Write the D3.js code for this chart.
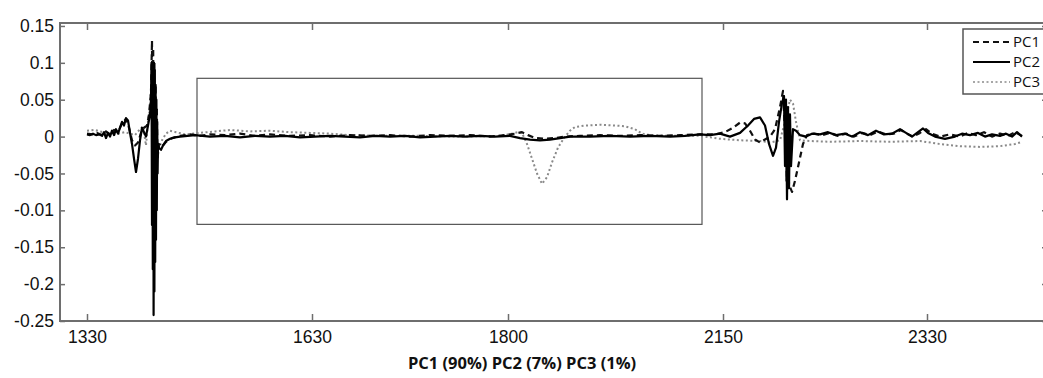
<!DOCTYPE html>
<html>
<head>
<meta charset="utf-8">
<script src="https://cdn.jsdelivr.net/npm/d3@7"></script>
<style>
  body { margin: 0; background: #fff; }
  svg { display: block; font-family: "Open Sans", "DejaVu Sans", sans-serif; }
</style>
</head>
<body>
<svg id="chart" width="1043" height="378"></svg>
<script>
// x is the variable index along the spectrum; tick labels are the printed wavenumbers
const xTickValues = [27, 252, 448, 663, 867];
const xTickLabels = ["1330", "1630", "1800", "2150", "2330"];

const yTickValues = [0.15, 0.1, 0.05, 0, -0.05, -0.1, -0.15, -0.2, -0.25];
const yTickLabels = ["0.15", "0.1", "0.05", "0", "-0.05", "-0.01", "-0.15", "-0.2", "-0.25"];

const seriesNames = ["PC1", "PC2", "PC3"];
const xTitle = "PC1 (90%) PC2 (7%) PC3 (1%)";

// zoom box drawn on the plot (data units)
const boxX = [137, 642];
const boxY = [0.079, -0.119];

// [index, loading]
const pc1 = [
  [27, 0.004], [32, 0.003], [37, 0.005], [42, 0.002], [46, 0.007], [50, 0.003], [54, 0.009],
  [58, 0.006], [62, 0.018], [66, 0.024], [69, 0.012], [72, -0.005], [75, -0.012], [78, -0.008],
  [81, 0.005], [84, 0.012], [87, 0.015], [89, 0.03], [91, 0.06], [92, 0.13], [92.6, -0.05],
  [93.2, 0.12], [93.8, -0.16], [94.4, 0.1], [95, -0.12], [95.6, 0.07], [96.2, -0.08], [96.8, 0.04],
  [97.5, -0.03], [99, -0.01], [102, -0.014], [106, -0.007], [112, -0.002], [120, 0.001],
  [130, 0.003], [140, 0.001], [150, 0.003], [165, 0.002], [180, 0.004], [195, 0.001], [210, 0.003],
  [230, 0.001], [250, 0.002], [270, 0.0], [290, 0.002], [310, 0.001], [330, 0.002], [350, 0.0],
  [370, 0.002], [390, 0.001], [410, 0.002], [430, 0.0], [445, 0.002], [455, 0.004], [462, 0.006],
  [468, 0.002], [475, -0.002], [485, -0.003], [495, -0.002], [505, 0.0], [520, 0.001], [540, 0.002],
  [560, 0.001], [580, 0.002], [600, 0.001], [620, 0.002], [640, 0.003], [655, 0.003], [665, 0.006],
  [673, 0.012], [680, 0.019], [685, 0.018], [690, 0.008], [695, -0.004], [700, -0.008],
  [705, -0.004], [710, 0.0], [715, 0.01], [720, 0.04], [723, 0.062], [724.5, 0.02], [725.5, 0.05],
  [726.5, -0.06], [727.5, 0.03], [729, -0.065], [732, -0.075], [735, -0.06], [739, -0.035],
  [743, -0.01], [747, 0.002], [754, 0.004], [762, 0.002], [770, 0.005], [778, 0.001], [786, 0.004],
  [794, 0.0], [802, 0.005], [810, 0.002], [818, 0.007], [826, 0.003], [834, 0.004], [841, 0.009],
  [847, 0.004], [853, 0.0], [860, 0.005], [866, 0.01], [872, 0.004], [880, 0.0], [890, 0.003],
  [900, 0.0], [908, 0.005], [916, 0.002], [924, 0.006], [932, 0.0], [940, 0.004], [948, 0.001],
  [955, 0.006], [962, 0.001]
];

const pc2 = [
  [27, 0.003], [30, 0.002], [33, 0.004], [36, 0.002], [39, 0.003], [42, 0.001], [44, 0.006],
  [46, -0.002], [48, 0.005], [50, 0.0], [52, 0.008], [54, 0.002], [56, 0.01], [58, 0.004],
  [60, 0.012], [62, 0.02], [64, 0.015], [66, 0.025], [68, 0.022], [70, 0.005], [72, -0.01],
  [74, -0.03], [76, -0.048], [78, -0.03], [80, -0.005], [82, 0.012], [84, 0.006], [86, 0.0],
  [88, 0.015], [90, 0.03], [91, 0.05], [91.5, 0.1], [92, -0.12], [92.4, 0.095], [92.8, -0.18],
  [93.3, 0.1], [93.6, -0.242], [94, 0.1], [94.4, -0.21], [94.8, 0.09], [95.2, -0.17], [95.6, 0.07],
  [96, -0.14], [96.4, 0.05], [96.8, -0.1], [97.2, 0.02], [97.6, -0.05], [98, -0.01], [99, -0.015],
  [101, -0.018], [103, -0.012], [106, -0.006],
  [110, -0.003], [115, -0.001], [120, 0.0], [135, 0.002], [150, 0.0], [165, 0.001], [180, -0.001],
  [195, 0.001], [210, 0.0], [225, 0.001], [240, -0.001], [255, 0.0], [270, 0.001], [285, 0.0],
  [300, -0.001], [315, 0.001], [330, 0.0], [345, 0.001], [360, -0.001], [375, 0.0], [390, 0.001],
  [405, 0.0], [420, 0.001], [435, 0.0], [450, 0.001], [460, -0.002], [470, -0.004], [480, -0.005],
  [490, -0.004], [500, -0.002], [510, 0.0], [530, 0.0], [550, 0.001], [570, 0.0], [590, 0.001],
  [610, 0.0], [625, 0.001], [640, 0.003], [650, 0.002], [660, 0.004], [670, 0.0], [680, 0.005],
  [688, 0.015], [694, 0.024], [700, 0.026], [705, 0.015], [709, -0.01], [713, -0.026],
  [716, -0.015], [719, 0.02], [722, 0.045], [724, 0.055], [725, -0.04], [726, 0.05], [727, -0.085],
  [728, 0.04], [729, -0.07], [730, 0.03], [731, -0.04], [733, 0.01], [736, 0.008], [740, 0.002],
  [746, 0.0], [752, 0.004], [760, 0.003], [768, 0.006], [776, 0.002], [785, 0.004], [792, 0.0],
  [800, 0.006], [808, 0.002], [816, 0.008], [824, 0.003], [832, 0.004], [840, 0.01], [846, 0.005],
  [852, 0.0], [858, 0.006], [863, 0.011], [868, 0.005], [875, 0.0], [885, -0.003], [895, 0.0],
  [902, 0.004], [910, 0.002], [918, 0.005], [925, 0.0], [932, 0.003], [940, 0.001], [946, 0.004],
  [952, 0.0], [957, 0.006], [962, 0.0]
];

const pc3 = [
  [27, 0.008], [35, 0.009], [45, 0.005], [55, 0.003], [65, 0.006], [75, 0.002], [80, 0.01],
  [83, 0.014], [86, -0.012], [88, 0.02], [90, 0.04], [92, 0.09], [93, 0.0], [94, 0.08],
  [95, -0.05], [96, -0.015], [98, -0.02], [102, -0.005], [106, 0.004], [110, 0.008], [116, 0.006],
  [125, 0.003], [140, 0.005], [155, 0.007], [170, 0.009], [190, 0.007], [210, 0.008], [230, 0.006],
  [250, 0.005], [270, 0.004], [290, 0.002], [320, 0.001], [360, 0.001], [400, 0.0], [440, 0.001],
  [452, 0.004], [458, 0.006], [462, 0.005], [467, -0.01], [472, -0.03], [477, -0.05], [482, -0.064],
  [487, -0.055], [492, -0.035], [498, -0.015], [504, -0.002], [510, 0.008], [515, 0.013],
  [525, 0.015], [540, 0.016], [555, 0.015], [565, 0.014], [575, 0.01], [582, 0.004], [590, 0.002],
  [610, 0.001], [640, 0.001], [660, -0.003], [680, -0.005], [700, -0.006], [710, -0.008],
  [720, -0.005], [725, 0.02], [730, 0.05], [733, 0.045], [736, 0.02], [740, -0.005], [750, -0.006],
  [770, -0.007], [800, -0.006], [830, -0.007], [860, -0.006], [880, -0.01], [900, -0.013],
  [920, -0.014], [940, -0.013], [955, -0.01], [960, -0.008]
];

const svg = d3.select("#chart");
const margin = { top: 23, left: 60 };
const plotRight = 1047;
const plotBottom = 321;

const x = d3.scaleLinear().domain([0, 987]).range([margin.left, plotRight]);
const y = d3.scaleLinear().domain([-0.25, 0.154]).range([plotBottom, margin.top]);

const frameColor = "#6e6e6e";

// inward ticks on all four sides
const fmtX = (d) => xTickLabels[xTickValues.indexOf(d)];
const fmtY = (d) => yTickLabels[yTickValues.indexOf(d)];

const xb = svg.append("g")
  .attr("transform", `translate(0,${plotBottom})`)
  .call(d3.axisBottom(x).tickValues(xTickValues).tickFormat(fmtX)
    .tickSizeInner(-7).tickSizeOuter(0).tickPadding(10));
const xt = svg.append("g")
  .attr("transform", `translate(0,${margin.top})`)
  .call(d3.axisTop(x).tickValues(xTickValues).tickFormat("")
    .tickSizeInner(-7).tickSizeOuter(0));
const yl = svg.append("g")
  .attr("transform", `translate(${margin.left},0)`)
  .call(d3.axisLeft(y).tickValues(yTickValues).tickFormat(fmtY)
    .tickSizeInner(-5).tickSizeOuter(0).tickPadding(6));
const yr = svg.append("g")
  .attr("transform", `translate(${plotRight},0)`)
  .call(d3.axisRight(y).tickValues(yTickValues).tickFormat("")
    .tickSizeInner(-5).tickSizeOuter(0));

[xb, xt, yl, yr].forEach((g) => {
  g.select(".domain").remove();
  g.selectAll("line").attr("stroke", frameColor).attr("stroke-width", 1.5);
  g.selectAll("text")
    .style("font-size", "17.5px")
    .style("fill", "#111");
});

// frame
svg.append("rect")
  .attr("x", margin.left)
  .attr("y", margin.top)
  .attr("width", plotRight - margin.left)
  .attr("height", plotBottom - margin.top)
  .attr("fill", "none")
  .attr("stroke", frameColor)
  .attr("stroke-width", 2);

// zoom box
svg.append("rect")
  .attr("x", x(boxX[0]))
  .attr("y", y(boxY[0]))
  .attr("width", x(boxX[1]) - x(boxX[0]))
  .attr("height", y(boxY[1]) - y(boxY[0]))
  .attr("fill", "none")
  .attr("stroke", "#555")
  .attr("stroke-width", 1.2);

const line = d3.line().x((d) => x(d[0])).y((d) => y(d[1]));

const styles = [
  { data: pc1, stroke: "#111", width: 2.2, dash: "6,4" },
  { data: pc2, stroke: "#000", width: 2.2, dash: null },
  { data: pc3, stroke: "#8a8a8a", width: 2, dash: "2,2.5" }
];

// draw dotted first so the black lines sit on top, like the original
[styles[2], styles[0], styles[1]].forEach((s) => {
  svg.append("path")
    .datum(s.data)
    .attr("d", line)
    .attr("fill", "none")
    .attr("stroke", s.stroke)
    .attr("stroke-width", s.width)
    .attr("stroke-linejoin", "round")
    .attr("stroke-dasharray", s.dash);
});

// x title
svg.append("text")
  .attr("x", 522)
  .attr("y", 369)
  .attr("text-anchor", "middle")
  .style("font-size", "16.5px")
  .style("font-weight", "bold")
  .style("fill", "#111")
  .text(xTitle);

// legend
const legend = svg.append("g").attr("transform", "translate(963,29)");
legend.append("rect")
  .attr("width", 110)
  .attr("height", 65)
  .attr("fill", "#fff")
  .attr("stroke", "#555")
  .attr("stroke-width", 1.5);
seriesNames.forEach((name, i) => {
  const s = styles[i];
  const ly = 13 + i * 20;
  legend.append("line")
    .attr("x1", 10).attr("x2", 47)
    .attr("y1", ly).attr("y2", ly)
    .attr("stroke", s.stroke)
    .attr("stroke-width", i === 2 ? 1.5 : 2)
    .attr("stroke-dasharray", s.dash);
  legend.append("text")
    .attr("x", 50)
    .attr("y", ly)
    .attr("dy", "0.35em")
    .style("font-size", "15px")
    .style("fill", "#111")
    .text(name);
});
</script>
</body>
</html>
